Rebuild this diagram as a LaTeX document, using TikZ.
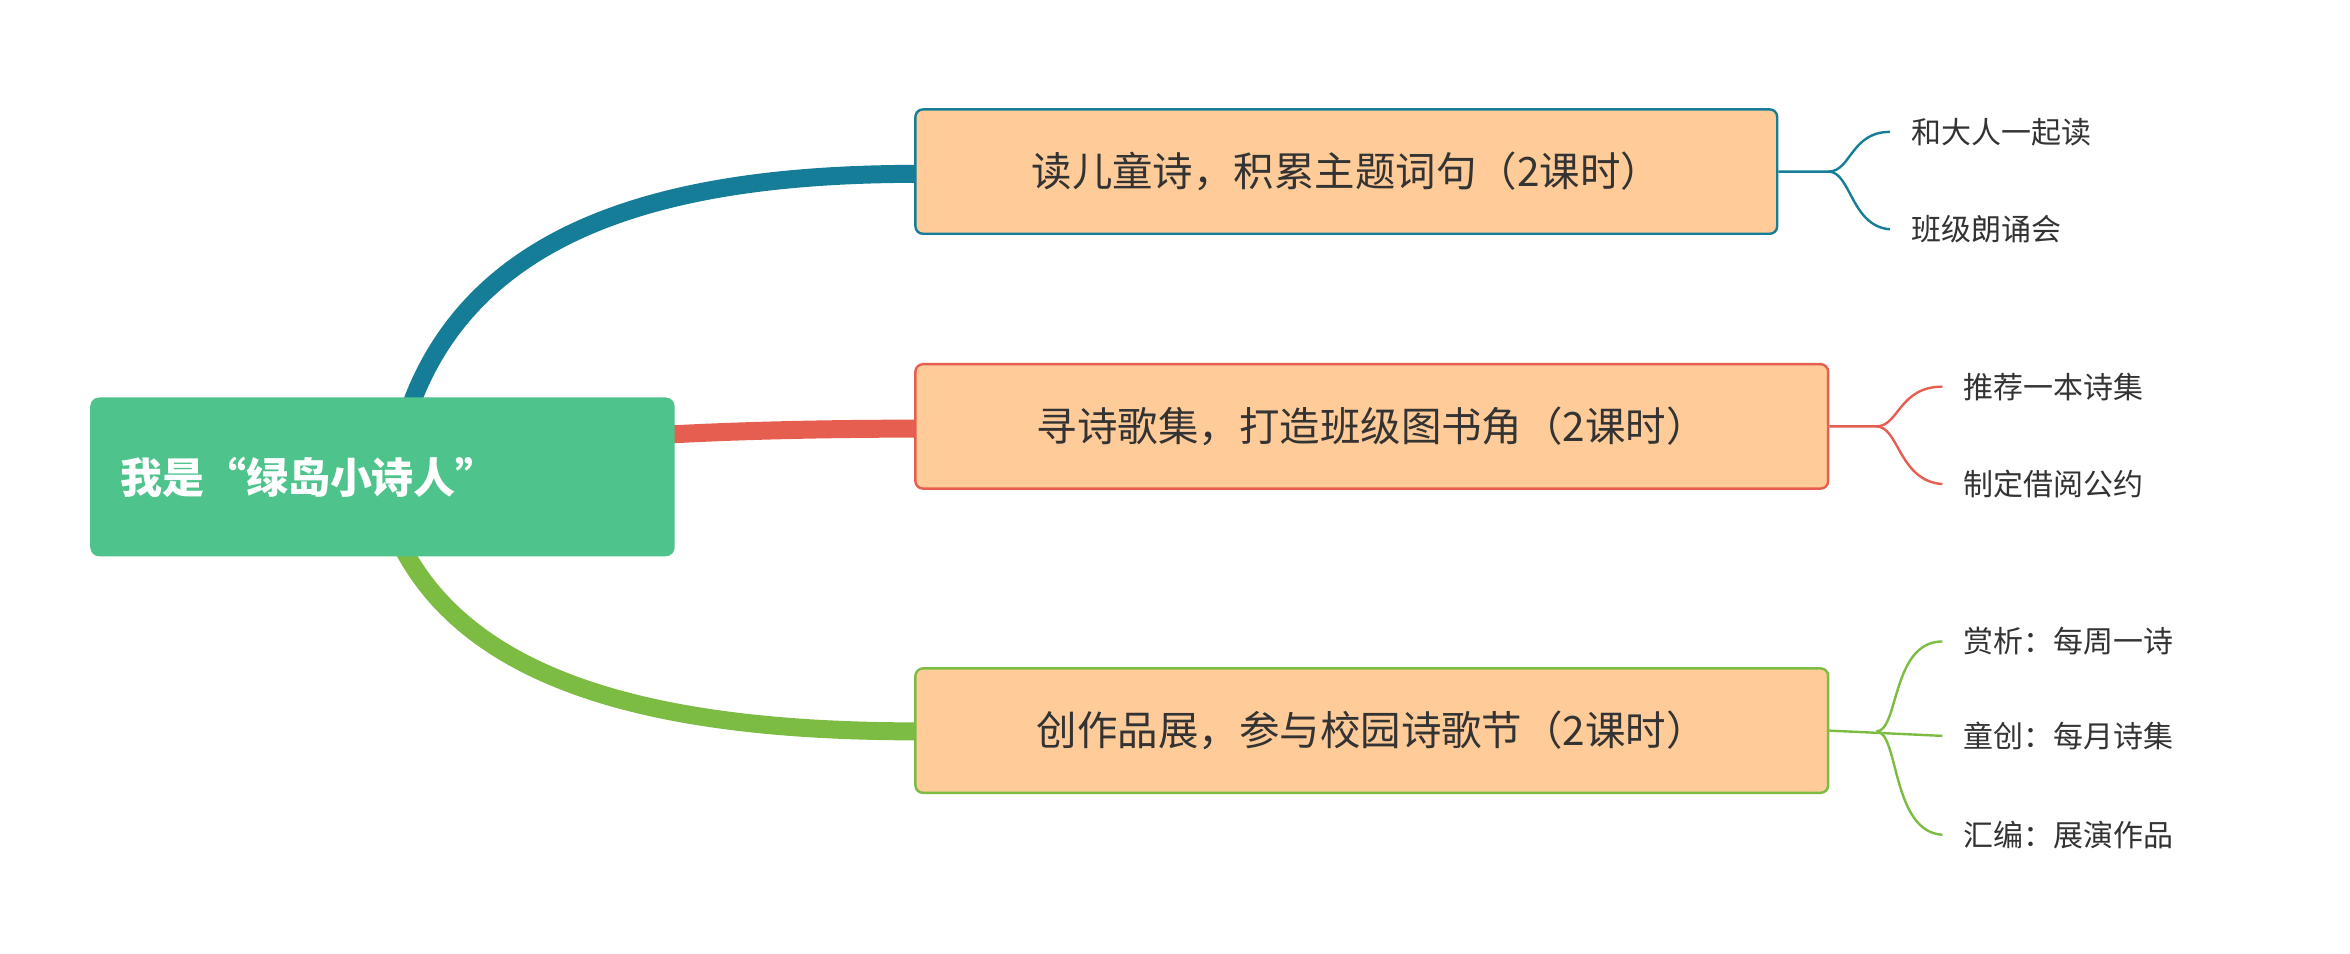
\documentclass[tikz,border=0pt]{standalone}
\usepackage{fontspec}
\setmainfont{Noto Sans CJK SC}
\definecolor{rootg}{HTML}{4EC38C}
\definecolor{peach}{HTML}{FFCC99}
\definecolor{teal}{HTML}{167D98}
\definecolor{redb}{HTML}{E55E4F}
\definecolor{greenb}{HTML}{7CBC42}
\definecolor{txt}{HTML}{333333}
\begin{document}
\begin{tikzpicture}[x=1pt,y=-1pt,
  br/.style={draw=#1,line width=1.6pt,fill=peach,rounded corners=5pt,anchor=west,text=txt,font=\fontsize{27}{30}\selectfont,inner xsep=22pt,minimum height=83pt},
  leaf/.style={anchor=west,text=txt,font=\fontsize{20}{24}\selectfont,inner sep=0pt},
  thick1/.style={line width=12pt,draw=#1},
  thin1/.style={line width=1.6pt,draw=#1}]
\useasboundingbox (0,0) rectangle (1568,636);
\fill[white] (0,0) rectangle (1568,636);
% connectors
\coordinate (r1) at (275,268);
\coordinate (r2) at (445,290);
\coordinate (r3) at (270,368);
\draw[thick1=teal] (r1) .. controls (320,150) and (450,116) .. (612,116);
\draw[thick1=redb] (r2) .. controls (500,287) and (560,286) .. (612,286);
\draw[thick1=greenb] (r3) .. controls (320,460) and (450,488) .. (612,488);
% root
\node[fill=rootg,rounded corners=6pt,minimum width=390pt,minimum height=106pt,anchor=north west,text=white,font=\bfseries\fontsize{28}{32}\selectfont,text width=350pt,align=left] (root) at (60,265) {我是“绿岛小诗人”};
% branches
\node[br=teal,minimum width=575pt] (b1) at (610,114.5) {读儿童诗，积累主题词句（2课时）};
\node[br=redb,minimum width=609pt] (b2) at (610,284.5) {寻诗歌集，打造班级图书角（2课时）};
\node[br=greenb,minimum width=609pt] (b3) at (610,487.5) {创作品展，参与校园诗歌节（2课时）};
% leaves
\node[leaf] (l11) at (1275,88) {和大人一起读};
\node[leaf] (l12) at (1275,153) {班级朗诵会};
\node[leaf] (l21) at (1310,258) {推荐一本诗集};
\node[leaf] (l22) at (1310,323) {制定借阅公约};
\node[leaf] (l31) at (1310,428) {赏析：每周一诗};
\node[leaf] (l32) at (1310,491) {童创：每月诗集};
\node[leaf] (l33) at (1310,557) {汇编：展演作品};
% leaf connectors
\draw[thin1=teal] (b1.east) -- (1220,114.5) .. controls (1235,114.5) and (1235,88) .. ([xshift=-14pt]l11.west);
\draw[thin1=teal] (1220,114.5) .. controls (1235,114.5) and (1235,151) .. ([xshift=-14pt]l12.west);
\draw[thin1=redb] (b2.east) -- (1252,284.5) .. controls (1267,284.5) and (1267,258) .. ([xshift=-14pt]l21.west);
\draw[thin1=redb] (1252,284.5) .. controls (1267,284.5) and (1267,321) .. ([xshift=-14pt]l22.west);
\draw[thin1=greenb] (b3.east) -- ([xshift=-14pt]l32.west);
\draw[thin1=greenb] (1252,488) .. controls (1267,488) and (1262,428) .. ([xshift=-14pt]l31.west);
\draw[thin1=greenb] (1252,488) .. controls (1267,488) and (1262,555) .. ([xshift=-14pt]l33.west);
\end{tikzpicture}
\end{document}
